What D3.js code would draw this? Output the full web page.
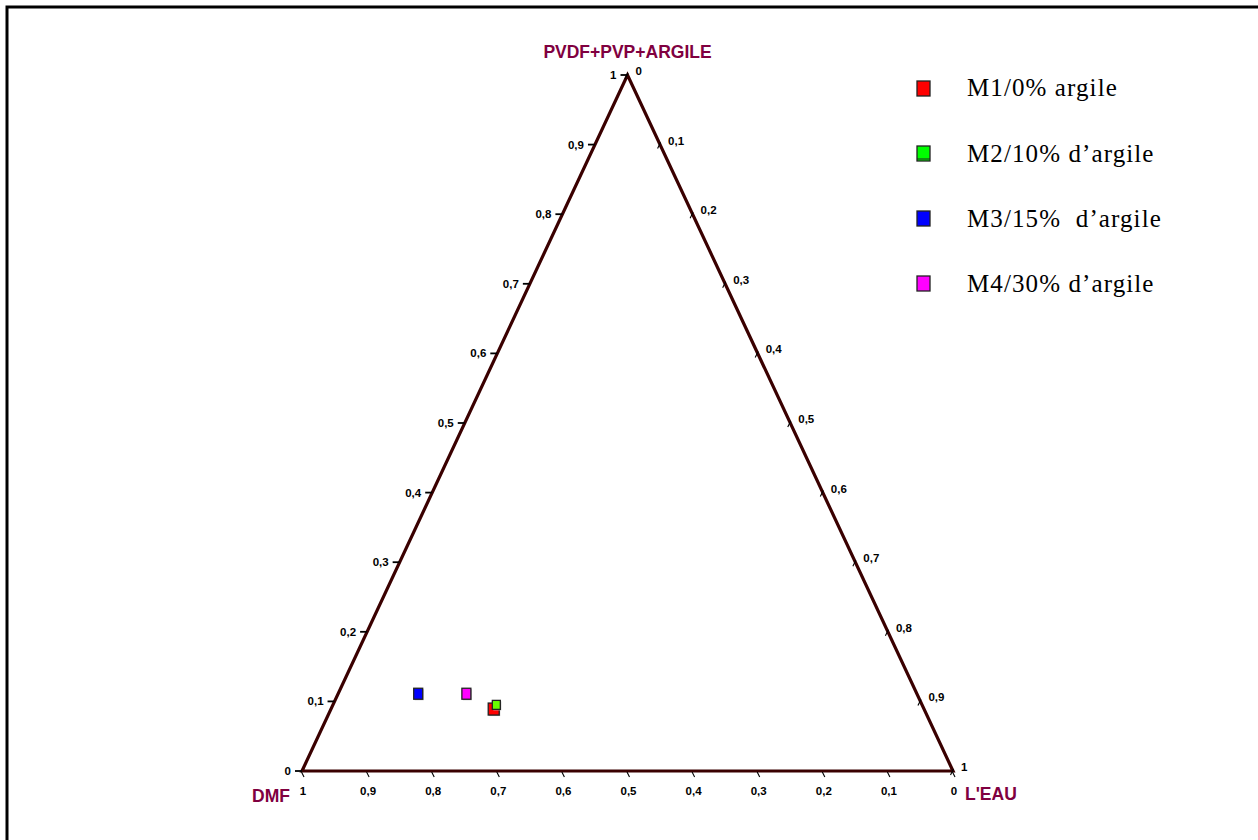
<!DOCTYPE html>
<html>
<head>
<meta charset="utf-8">
<script src="https://cdn.jsdelivr.net/npm/d3@7"></script>
<style>
  html, body { margin: 0; padding: 0; background: #fff; }
  svg { display: block; }
</style>
</head>
<body>
<svg id="chart" width="1258" height="840"></svg>
<script>
// ---- data ----
const seriesNames = ["M1/0% argile", "M2/10% d\u2019argile", "M3/15%  d\u2019argile", "M4/30% d\u2019argile"];
const dmf   = [0.661, 0.655, 0.766, 0.692];   // DMF fraction
const eau   = [0.250, 0.251, 0.123, 0.197];   // L'EAU fraction
const pvdf  = [0.089, 0.095, 0.111, 0.111];   // PVDF+PVP+ARGILE fraction
const tickValues = [0, 0.1, 0.2, 0.3, 0.4, 0.5, 0.6, 0.7, 0.8, 0.9, 1];
const axisTitles = { top: "PVDF+PVP+ARGILE", left: "DMF", right: "L'EAU" };

// ---- styles ----
const colors = ["#ff0000", "#66ff00", "#0000ff", "#ff00ff"];
const legendColors = ["#ff0000", "#00ff00", "#0000ff", "#ff00ff"];
const markerSize = [[11, 12], [8, 9], [9, 11], [9, 11]];
const drawOrder = [2, 3, 0, 1];
const edgeColor = "#3a0000";
const titleColor = "#800040";

const svg = d3.select("#chart");

// frame
svg.append("rect").attr("x", 7).attr("y", 7).attr("width", 1400).attr("height", 1000)
  .attr("fill", "none").attr("stroke", "#000").attr("stroke-width", 3);

// ternary scales: horizontal on (w + p/2), vertical on p
const sx = d3.scaleLinear().domain([0, 1]).range([302, 953]);
const sy = d3.scaleLinear().domain([0, 1]).range([771, 75]);
const proj = (p, w) => [sx(w + p / 2), sy(p)];
const fmt = v => d3.format(".1~f")(v).replace(".", ",");

const BL = proj(0, 0), BR = proj(0, 1), AP = proj(1, 0);

// triangle
svg.append("path")
  .attr("d", d3.line()([BL, BR, AP, BL]) + "Z")
  .attr("fill", "none").attr("stroke", edgeColor).attr("stroke-width", 3.2)
  .attr("stroke-linejoin", "miter");

const tickFont = "'Liberation Sans', Arial, sans-serif";
const tickSize = 11.5;

// left axis (PVDF+PVP+ARGILE): 0 bottom-left -> 1 apex
const gL = svg.append("g");
tickValues.forEach(v => {
  const [x, y] = proj(v, 0);
  gL.append("line").attr("x1", x - 7).attr("x2", x).attr("y1", y).attr("y2", y)
    .attr("stroke", "#000").attr("stroke-width", 1.8);
  gL.append("text").attr("x", x - 11).attr("y", y).attr("dy", "0.35em")
    .attr("text-anchor", "end").attr("font-family", tickFont).attr("font-weight", "bold")
    .attr("font-size", tickSize).attr("fill", "#000").text(fmt(v));
});

// right axis (L'EAU): 0 apex -> 1 bottom-right
const gR = svg.append("g");
tickValues.forEach(v => {
  const [x, y] = proj(1 - v, v);
  gR.append("line").attr("x1", x - 2.5).attr("x2", x + 0.5).attr("y1", y + 4).attr("y2", y - 2)
    .attr("stroke", "#000").attr("stroke-width", 1.1);
  gR.append("text").attr("x", x + 8).attr("y", y - 4).attr("dy", "0.35em")
    .attr("text-anchor", "start").attr("font-family", tickFont).attr("font-weight", "bold")
    .attr("font-size", tickSize).attr("fill", "#000").text(fmt(v));
});

// bottom axis (DMF): 1 left -> 0 right
const gB = svg.append("g");
tickValues.forEach(v => {
  const w = 1 - v;
  const [x, y] = proj(0, w);
  gB.append("line").attr("x1", x - 0.5).attr("x2", x + 2).attr("y1", y + 1).attr("y2", y + 6)
    .attr("stroke", "#000").attr("stroke-width", 1.1);
  gB.append("text").attr("x", x + 1).attr("y", y + 20).attr("dy", "0.35em")
    .attr("text-anchor", "middle").attr("font-family", tickFont).attr("font-weight", "bold")
    .attr("font-size", tickSize).attr("fill", "#000").text(fmt(v));
});

// axis titles
const titleFont = "'Liberation Sans', Arial, sans-serif";
svg.append("text").attr("x", AP[0]).attr("y", AP[1] - 23).attr("dy", "0.35em")
  .attr("text-anchor", "middle").attr("font-family", titleFont).attr("font-weight", "bold")
  .attr("font-size", 17.5).attr("fill", titleColor).text(axisTitles.top);
svg.append("text").attr("x", BL[0] - 12).attr("y", BL[1] + 25).attr("dy", "0.35em")
  .attr("text-anchor", "end").attr("font-family", titleFont).attr("font-weight", "bold")
  .attr("font-size", 17.5).attr("fill", titleColor).text(axisTitles.left);
svg.append("text").attr("x", BR[0] + 12).attr("y", BR[1] + 23).attr("dy", "0.35em")
  .attr("text-anchor", "start").attr("font-family", titleFont).attr("font-weight", "bold")
  .attr("font-size", 17.5).attr("fill", titleColor).text(axisTitles.right);

// data markers
const gM = svg.append("g");
drawOrder.forEach(i => {
  const [x, y] = proj(pvdf[i], eau[i]);
  const [w, h] = markerSize[i];
  gM.append("rect").attr("x", x - w / 2 + 1).attr("y", y - h / 2 + 1).attr("width", w).attr("height", h)
    .attr("fill", "#bbb");
  gM.append("rect").attr("x", x - w / 2).attr("y", y - h / 2).attr("width", w).attr("height", h)
    .attr("fill", colors[i]).attr("stroke", "#222").attr("stroke-width", 1.3);
});

// legend
const legY = d3.scalePoint().domain(d3.range(seriesNames.length)).range([88, 283]);
const legTextY = [87, 153, 218, 283];
const gLeg = svg.append("g");
seriesNames.forEach((name, i) => {
  const y = legY(i);
  gLeg.append("rect").attr("x", 917).attr("y", y - 7).attr("width", 13).attr("height", 15)
    .attr("fill", legendColors[i]).attr("stroke", "#222").attr("stroke-width", 1.3);
  if (i === 1) {
    gLeg.append("line").attr("x1", 917).attr("x2", 930).attr("y1", y + 6).attr("y2", y + 6)
      .attr("stroke", "#222").attr("stroke-width", 1);
  }
  gLeg.append("text").attr("x", 967).attr("y", legTextY[i]).attr("dy", "0.35em")
    .attr("xml:space", "preserve").style("white-space", "pre")
    .attr("font-family", "'Liberation Serif', 'Times New Roman', serif")
    .attr("font-size", 25).attr("letter-spacing", 1.1).attr("fill", "#000").text(name);
});
</script>
</body>
</html>
